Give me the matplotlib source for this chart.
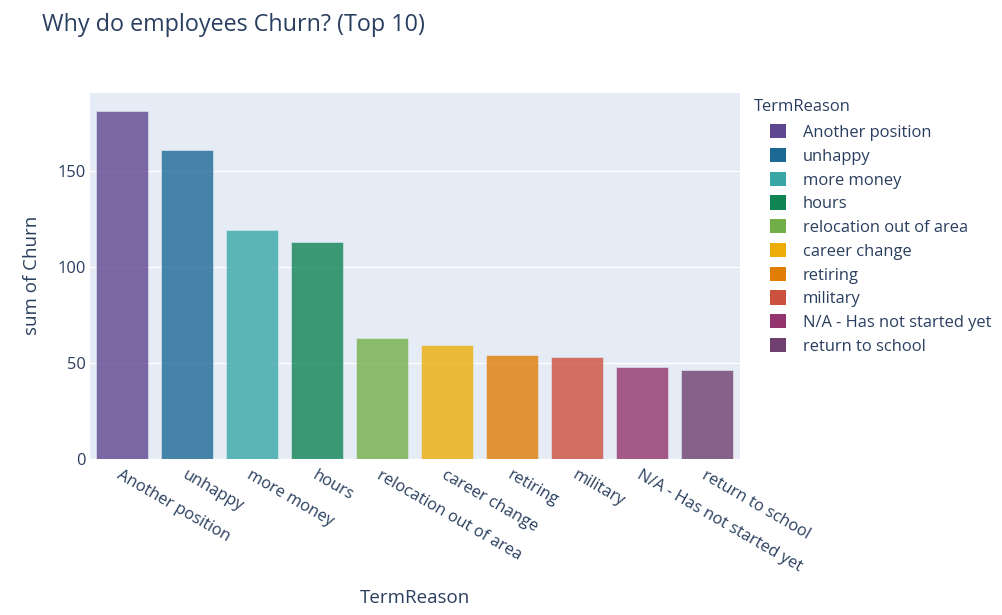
import matplotlib.pyplot as plt
from matplotlib.patches import Patch

plt.rcParams['font.family'] = ['Open Sans', 'DejaVu Sans']

reasons = ["Another position", "unhappy", "more money", "hours",
           "relocation out of area", "career change", "retiring", "military",
           "N/A - Has not started yet", "return to school"]
churn = [181, 161, 119, 113, 63, 59, 54, 53, 48, 46]
colors = ["#5f4690", "#1d6996", "#38a6a5", "#0f8554", "#73af48",
          "#edad08", "#e17c05", "#cc503e", "#94346e", "#6f4070"]

txt = "#2a3f5f"

fig = plt.figure(figsize=(10.03, 6.15), dpi=100)
ax = fig.add_axes([0.0897, 0.254, 0.648, 0.595])
ax.set_facecolor("#e5ecf6")

x = range(len(reasons))
ax.bar(x, churn, width=0.8, color=colors, alpha=0.8,
       edgecolor="#e5ecf6", linewidth=0.5, zorder=3)

ax.set_xlim(-0.5, len(reasons) - 0.5)
ax.set_ylim(0, max(churn) * 1.0525)
ax.set_yticks([0, 50, 100, 150])
ax.grid(axis="y", color="white", linewidth=1, zorder=0)
for s in ax.spines.values():
    s.set_visible(False)
ax.tick_params(length=0, colors=txt, labelsize=11.8)
ax.tick_params(axis="y", pad=3)

ax.set_xticks(list(x))
ax.set_xticklabels(reasons, rotation=-30, ha="left", va="top",
                   rotation_mode="anchor")
ax.tick_params(axis="x", pad=6)

ax.set_ylabel("sum of Churn", color=txt, fontsize=13.5, labelpad=12)
fig.text(0.414, 0.013, "TermReason", color=txt, fontsize=13.5, ha="center", va="bottom")

fig.text(0.042, 0.96, "Why do employees Churn? (Top 10)", color=txt,
         fontsize=16.8, ha="left", va="center")

# legend
fig.text(0.752, 0.826, "TermReason", color=txt, fontsize=11.9, ha="left", va="center")
handles = [Patch(facecolor=c, edgecolor="none") for c in colors]
leg = fig.legend(handles, reasons, loc="upper left",
                 bbox_to_anchor=(0.768, 0.798), frameon=False,
                 fontsize=11.9,
                 handlelength=0.95, handleheight=0.95, handletextpad=1.0,
                 labelspacing=0.42, borderaxespad=0, borderpad=0)
for t in leg.get_texts():
    t.set_color(txt)

fig.savefig("out.png", dpi=100)
